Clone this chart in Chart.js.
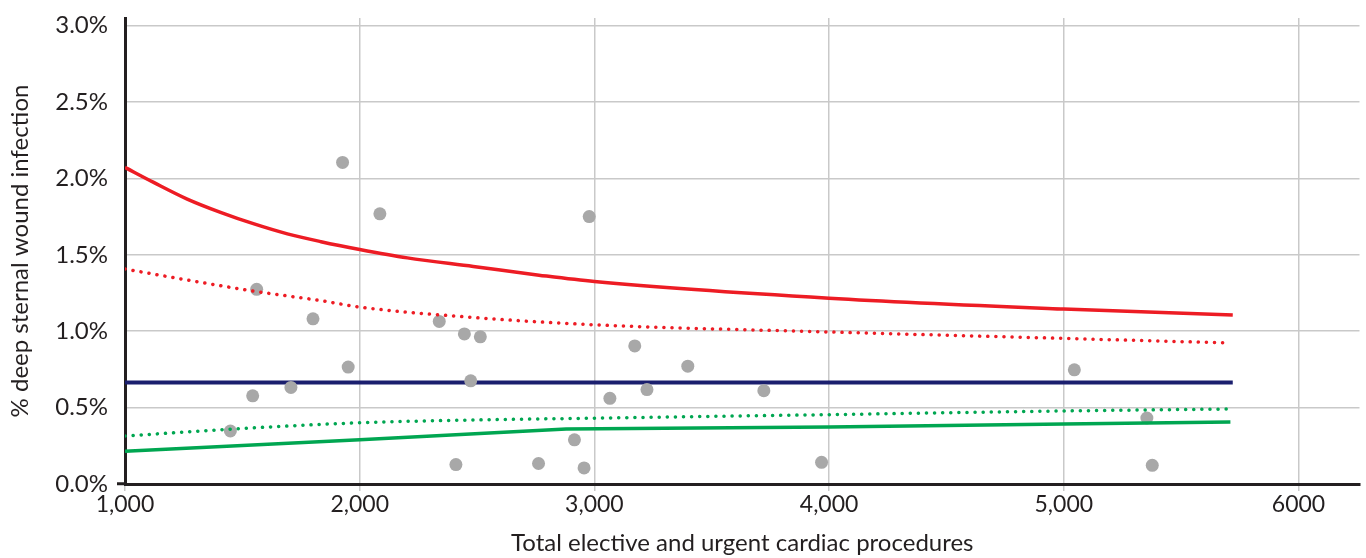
<!DOCTYPE html>
<html>
<head>
<meta charset="utf-8">
<script src="https://cdn.jsdelivr.net/npm/chart.js@4.4.1/dist/chart.umd.min.js"></script>
<style>
  html, body { margin: 0; padding: 0; background: #fff; }
  #wrap { width: 1366px; height: 558px; }
</style>
</head>
<body>
<div id="wrap"><canvas id="funnelChart" width="1366" height="558"></canvas></div>
<script>
// hospitals: procedures vs % deep sternal wound infection
const procedures = [1449, 1544, 1561, 1707, 1801, 1927, 1951, 2086, 2339, 2410, 2446, 2473, 2514,
    2762, 2915, 2956, 2978, 3066, 3172, 3224, 3398, 3722, 3968, 5045, 5354, 5377];
const infectionRate = [0.347, 0.577, 1.274, 0.632, 1.081, 2.105, 0.765, 1.768, 1.064, 0.127, 0.982, 0.675, 0.963,
    0.134, 0.289, 0.105, 1.750, 0.561, 0.904, 0.618, 0.771, 0.611, 0.142, 0.747, 0.432, 0.122];

// control limits
const upperOuterX = [1000, 1122, 1265, 1407, 1550, 1692, 1835, 2000, 2203, 2484, 2764, 3000, 4000, 5000, 5720];
const upperOuter = [2.072, 1.974, 1.865, 1.778, 1.702, 1.637, 1.586, 1.535, 1.480, 1.424, 1.367, 1.325, 1.216, 1.145, 1.106];
const upperInnerX = [1000, 1265, 1550, 1835, 2000, 2484, 3000, 4000, 5000, 5710];
const upperInner = [1.407, 1.335, 1.262, 1.200, 1.158, 1.090, 1.042, 0.995, 0.953, 0.923];
const lowerInnerX = [1000, 1461, 2000, 2319, 3000, 4000, 5000, 5710];
const lowerInner = [0.314, 0.360, 0.401, 0.414, 0.431, 0.454, 0.478, 0.491];
const lowerOuterX = [1000, 2000, 2880, 4000, 5000, 5710];
const lowerOuter = [0.215, 0.289, 0.360, 0.373, 0.393, 0.406];
const meanX = [1000, 5720];
const meanRate = [0.664, 0.664];

const xTicks = [1000, 2000, 3000, 4000, 5000, 6000];
const xTickLabels = ['1,000', '2,000', '3,000', '4,000', '5,000', '6000'];
const yTicks = [0, 0.5, 1.0, 1.5, 2.0, 2.5, 3.0];
const yTickLabels = ['0.0%', '0.5%', '1.0%', '1.5%', '2.0%', '2.5%', '3.0%'];

function pairs(xs, ys) {
    return xs.map(function (x, i) { return { x: x, y: ys[i] }; });
}

const ink = '#231f20';
const red = '#ed1c24';
const green = '#00a651';

document.addEventListener('DOMContentLoaded', function () {
    const ctx = document.getElementById('funnelChart');

    new Chart(ctx, {
        type: 'scatter',
        data: {
            datasets: [{
                type: 'line',
                data: pairs(upperOuterX, upperOuter),
                borderColor: red,
                borderWidth: 3.5,
                pointRadius: 0,
                cubicInterpolationMode: 'monotone',
                order: 0
            }, {
                type: 'line',
                data: pairs(upperInnerX, upperInner),
                borderColor: red,
                borderWidth: 3.5,
                borderDash: [0.1, 8],
                borderCapStyle: 'round',
                pointRadius: 0,
                cubicInterpolationMode: 'monotone',
                order: 1
            }, {
                type: 'line',
                data: pairs(lowerInnerX, lowerInner),
                borderColor: green,
                borderWidth: 3.5,
                borderDash: [0.1, 8],
                borderCapStyle: 'round',
                pointRadius: 0,
                cubicInterpolationMode: 'monotone',
                order: 2
            }, {
                type: 'line',
                data: pairs(lowerOuterX, lowerOuter),
                borderColor: green,
                borderWidth: 3.5,
                pointRadius: 0,
                tension: 0,
                order: 3
            }, {
                data: pairs(procedures, infectionRate),
                backgroundColor: '#a8a8a8',
                borderWidth: 0,
                pointRadius: 6.5,
                order: 5
            }, {
                type: 'line',
                data: pairs(meanX, meanRate),
                borderColor: '#1b1f6e',
                borderWidth: 4,
                pointRadius: 0,
                order: 6
            }]
        },
        options: {
            responsive: false,
            animation: false,
            layout: { padding: { top: 0, right: 0, bottom: 0, left: 0 } },
            plugins: {
                legend: { display: false },
                tooltip: { enabled: false }
            },
            scales: {
                x: {
                    type: 'linear',
                    min: 1000,
                    max: 6260,
                    afterBuildTicks: function (scale) {
                        scale.ticks = xTicks.map(function (v) { return { value: v }; });
                    },
                    afterFit: function (scale) { scale.height = 74; },
                    grid: { color: '#c9c9c9', lineWidth: 1.5, tickLength: 7, drawTicks: true },
                    border: { color: ink, width: 3 },
                    ticks: {
                        color: ink,
                        padding: 0,
                        maxRotation: 0,
                        font: { family: 'Lato', size: 23 },
                        callback: function (v, i) { return xTickLabels[i]; }
                    },
                    title: {
                        display: true,
                        text: 'Total elective and urgent cardiac procedures',
                        color: ink,
                        padding: { top: 0, bottom: 0 },
                        font: { family: 'Lato', size: 24 }
                    }
                },
                y: {
                    min: 0,
                    max: 3.05,
                    afterBuildTicks: function (scale) {
                        scale.ticks = yTicks.map(function (v) { return { value: v }; });
                    },
                    afterFit: function (scale) { scale.width = 125; },
                    grid: {
                        color: '#c9c9c9',
                        lineWidth: 1.5,
                        drawTicks: true,
                        tickLength: 8,
                        tickWidth: 3,
                        tickColor: function (c) { return c.index === 0 ? ink : 'rgba(0,0,0,0)'; }
                    },
                    border: { color: ink, width: 3 },
                    ticks: {
                        color: ink,
                        padding: 9,
                        font: { family: 'Lato', size: 24, lineHeight: 0.75 },
                        callback: function (v, i) { return yTickLabels[i]; }
                    },
                    title: {
                        display: true,
                        text: '% deep sternal wound infection',
                        color: ink,
                        padding: { top: 6, bottom: 0 },
                        font: { family: 'Lato', size: 24 }
                    }
                }
            }
        }
    });
});
</script>
</body>
</html>
